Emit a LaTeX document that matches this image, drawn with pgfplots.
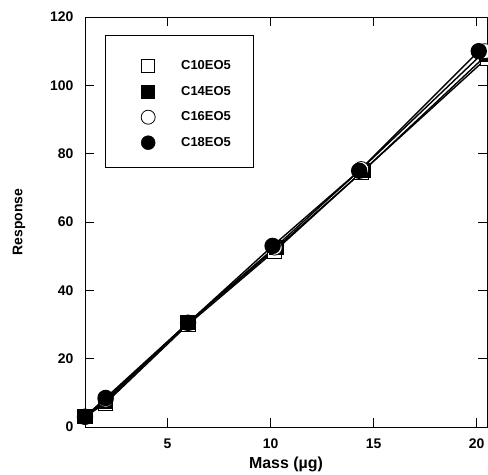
\documentclass[border=0pt]{standalone}
\usepackage{pgfplots}
\pgfplotsset{compat=1.18}
\usepackage{fontspec}
\setmainfont{Liberation Sans}
\begin{document}
\begin{tikzpicture}
\begin{axis}[name=ax, scale only axis, width=402bp, height=410bp,
  xmin=1, xmax=20.5, ymin=0, ymax=120,
  xtick={5,10,15,20}, ytick={0,20,40,60,80,100,120},
  tick align=inside, major tick length=9bp,
  xtick pos=both, ytick pos=both,
  axis line style={line width=0.9bp}, every tick/.style={line width=0.9bp, black},
  /pgf/number format/assume math mode=true,
  ticklabel style={font=\fontsize{14}{16}\selectfont\bfseries},
  yticklabel style={xshift=-8bp},
  xticklabel style={yshift=-8bp},
  xlabel={Mass (µg)}, ylabel={Response},
  xlabel style={font=\fontsize{16}{18}\selectfont\bfseries, yshift=-2bp},
  ylabel style={font=\fontsize{14}{16}\selectfont\bfseries, yshift=18bp},
  legend style={at={(0.1368,0.9)}, anchor=north west, draw=none, fill=none,
    font=\fontsize{13}{15}\selectfont\bfseries, inner sep=0bp,
    row sep=9.5bp, cells={anchor=west}},
  legend cell align=left,
  legend image code/.code={\path[draw=none,fill=none] (-8bp,-8bp) rectangle (31bp,8bp); \draw[#1] plot coordinates {(0bp,0bp)};},
]
\addplot[black, line width=1.4bp, mark=square*, mark options={fill=white, line width=0.8bp}, mark size=7bp, forget plot]
  coordinates {(1,3) (2,7) (6,30) (10.2,51.5) (14.4,74.5) (20.5,108)};
\addplot[black, line width=1.4bp, mark=square*, mark options={fill=black}, mark size=7bp, forget plot]
  coordinates {(1,3) (2,7.5) (6,30.5) (10.3,52.5) (14.5,75) (20.5,109)};
\addplot[black, line width=1.4bp, mark=*, mark options={fill=white, line width=0.8bp}, mark size=7.5bp, forget plot]
  coordinates {(1,3) (2,8) (6,30.5) (10.2,52.5) (14.4,75.5) (20.4,110)};
\addplot[black, line width=1.4bp, mark=*, mark options={fill=black}, mark size=7.5bp, forget plot]
  coordinates {(1,3) (2,8.5) (6,30.5) (10.1,53) (14.3,75) (20.1,110)};
\addlegendimage{only marks, black, mark=square*, mark options={fill=white, line width=0.8bp}, mark size=6.5bp}
\addlegendentry{C10EO5}
\addlegendimage{only marks, black, mark=square*, mark options={fill=black}, mark size=6.5bp}
\addlegendentry{C14EO5}
\addlegendimage{only marks, black, mark=*, mark options={fill=white, line width=0.8bp}, mark size=7bp}
\addlegendentry{C16EO5}
\addlegendimage{only marks, black, mark=*, mark options={fill=black}, mark size=7bp}
\addlegendentry{C18EO5}
\draw[line width=0.9bp] (rel axis cs:0.0498,0.9561) rectangle (rel axis cs:0.418,0.632);
\end{axis}
\pgfresetboundingbox
\path ([xshift=-85bp,yshift=-48bp]ax.south west) rectangle ([xshift=1bp,yshift=17bp]ax.north east);
\end{tikzpicture}
\end{document}
